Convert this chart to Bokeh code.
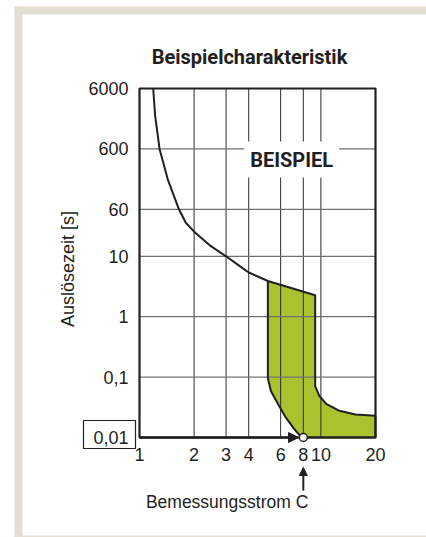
import math
from bokeh.plotting import figure
from bokeh.models import (Range1d, CustomJSTickFormatter, Label, BoxAnnotation,
                          Arrow, NormalHead)
from bokeh.embed import file_html
from bokeh.resources import INLINE

# ---- data ----
x_ticks = [1, 2, 3, 4, 6, 8, 10, 20]
y_ticks = [0.01, 0.1, 1, 10, 60, 600, 6000]

# upper tripping curve (thermal part)
curve_x = [1.19, 1.22, 1.29, 1.43, 1.65, 1.8, 2.0, 2.44, 3.0, 3.54, 4.0, 5.1]
curve_y = [6000, 2100, 600, 190, 60, 36, 25.6, 15.2, 10, 7.0, 5.4, 3.9]

# tolerance band (green area)
band_x = [5.1, 9.3, 9.3, 9.8, 10.7, 12.5, 15.5, 20, 20, 8, 7.7, 7.1, 6.4, 5.8, 5.3, 5.1]
band_y = [3.9, 2.26, 0.071, 0.049, 0.036, 0.028, 0.024, 0.023, 0.01, 0.01,
          0.0105, 0.014, 0.0215, 0.036, 0.059, 0.097]

rated_current = 8
title_text = "Beispielcharakteristik"
stamp_text = "BEISPIEL"
stamp_pos = (6.9, 400)
x_label = "Bemessungsstrom C"
y_label = "Auslösezeit [s]"

# ---- layout / styles ----
GREEN = "#a9c22e"
BEIGE = "#e4ded4"
INK = "#231f20"
FONT = "Liberation Sans"
BOLD = "Roboto"

W, H = 426, 537                      # canvas = page
CL, CR, CT, CB = 139, 375, 88, 437    # chart box in page pixels

kx = (CR - CL) / math.log10(x_ticks[-1] / x_ticks[0])
ky = (CB - CT) / math.log10(y_ticks[-1] / y_ticks[0])


def X(px):
    """page pixel column -> data x (for placing decorations)"""
    return x_ticks[0] * 10 ** ((px - CL) / kx)


def Y(py):
    """page pixel row -> data y (for placing decorations)"""
    return y_ticks[0] * 10 ** ((CB - py) / ky)


p = figure(width=W, height=H, x_axis_type="log", y_axis_type="log",
           x_range=Range1d(X(0), X(W)), y_range=Range1d(Y(H), Y(0)),
           output_backend="svg", toolbar_location=None, title=None,
           min_border=0)
p.background_fill_color = "white"
p.border_fill_color = "white"
p.outline_line_color = None
p.grid.visible = False

# beige card border
for l, r, t, b in ((14, 22, 6, 540), (14, 430, 6, 14), (14, 430, 535, 540)):
    p.add_layout(BoxAnnotation(left=X(l), right=X(r), top=Y(t), bottom=Y(b),
                               fill_color=BEIGE, fill_alpha=1, line_color=None,
                               level="underlay"))

# green band
p.patch(band_x, band_y, fill_color=GREEN, line_color=None)

# grid lines
inner_x = x_ticks[1:-1]
inner_y = y_ticks[1:-1]
p.segment(x0=inner_x, x1=inner_x, y0=[y_ticks[0]] * len(inner_x),
          y1=[y_ticks[-1]] * len(inner_x), line_color="#2b2b2b", line_width=1)
p.segment(x0=[x_ticks[0]] * len(inner_y), x1=[x_ticks[-1]] * len(inner_y),
          y0=inner_y, y1=inner_y, line_color="#707070", line_width=1.3)

# band outline and curve
p.patch(band_x, band_y, fill_color=None, line_color=INK, line_width=2)
p.line(curve_x, curve_y, line_color=INK, line_width=2)

# chart frame
p.quad(left=[x_ticks[0]], right=[x_ticks[-1]], bottom=[y_ticks[0]],
       top=[y_ticks[-1]], fill_color=None, line_color=INK, line_width=2.2)

# axes at the chart edges
fmt = CustomJSTickFormatter(code="return String(tick).replace('.', ',');")
for ax, ticks in ((p.xaxis, x_ticks), (p.yaxis, y_ticks)):
    ax.ticker = ticks
    ax.formatter = fmt
    ax.axis_line_color = None
    ax.major_tick_line_color = None
    ax.minor_tick_line_color = None
    ax.major_tick_out = 0
    ax.major_tick_in = 0
    ax.major_label_text_font = FONT
    ax.major_label_text_font_size = "18px"
    ax.major_label_text_color = INK
p.xaxis.fixed_location = y_ticks[0]
p.yaxis.fixed_location = x_ticks[0]
p.xaxis.major_label_standoff = 10
p.yaxis.major_label_standoff = 11
p.yaxis.axis_label = y_label
p.yaxis.axis_label_text_font = FONT
p.yaxis.axis_label_text_font_size = "18px"
p.yaxis.axis_label_text_font_style = "normal"
p.yaxis.axis_label_text_color = INK
p.yaxis.axis_label_standoff = 7

# stamp label
p.add_layout(Label(x=stamp_pos[0], y=stamp_pos[1], text=stamp_text,
                   text_align="center", text_baseline="middle",
                   text_font=BOLD, text_font_style="bold",
                   text_font_size="20px", text_color=INK,
                   background_fill_color="white", padding=6))

# title
p.add_layout(Label(x=X(249), y=Y(56), text=title_text, text_align="center",
                   text_baseline="middle", text_font=BOLD,
                   text_font_style="bold", text_font_size="20px",
                   text_color=INK))

# x axis arrow to rated current
p.add_layout(Arrow(end=NormalHead(size=10, fill_color=INK, line_color=INK),
                   x_start=x_ticks[0], y_start=y_ticks[0],
                   x_end=X(298), y_end=y_ticks[0],
                   line_color=INK, line_width=2.5))
# circle at rated current
p.scatter([rated_current], [y_ticks[0]], size=8, marker="circle",
          fill_color="white", line_color=INK, line_width=1.5)

# arrow pointing up to "8" and x label
p.add_layout(Arrow(end=NormalHead(size=8, fill_color=INK, line_color=INK),
                   x_start=rated_current, y_start=Y(490),
                   x_end=rated_current, y_end=Y(467),
                   line_color=INK, line_width=2))
p.add_layout(Label(x=rated_current, y=Y(501), text=x_label, text_align="right",
                   text_baseline="middle", x_offset=5, text_font=FONT,
                   text_font_size="17.5px", text_color=INK))

# box around lowest tick label
p.add_layout(BoxAnnotation(left=X(83), right=X(135), top=Y(420), bottom=Y(448),
                           fill_color=None, line_color=INK, line_alpha=1,
                           line_width=1.2))

open("out.html", "w").write(file_html(p, INLINE))
